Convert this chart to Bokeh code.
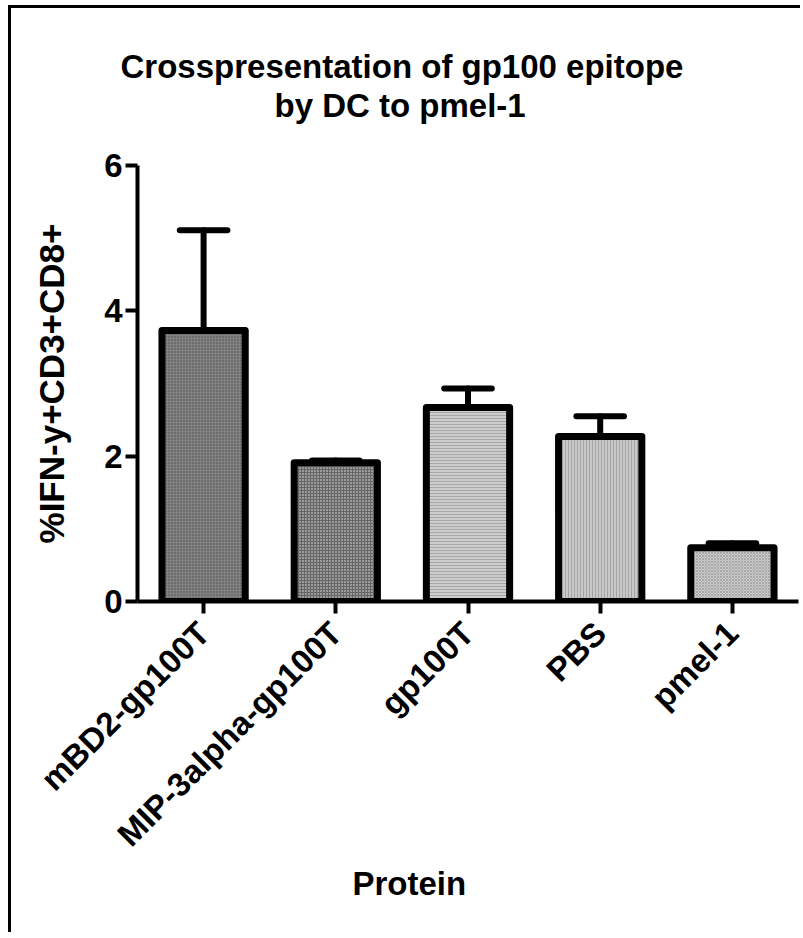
import math
from bokeh.plotting import figure
from bokeh.models import ColumnDataSource, FactorRange, Range1d, FixedTicker, Title
from bokeh.transform import dodge
from bokeh.embed import file_html
from bokeh.resources import INLINE

# ---- data ----
categories = ["mBD2-gp100T", "MIP-3alpha-gp100T", "gp100T", "PBS", "pmel-1"]
means = [3.73, 1.91, 2.67, 2.27, 0.74]
sem = [1.38, 0.03, 0.26, 0.28, 0.06]
y_ticks = [0, 2, 4, 6]
title_lines = ["Crosspresentation of gp100 epitope", "by DC to pmel-1"]
x_title = "Protein"
y_title = "%IFN-y+CD3+CD8+"

# ---- styles ----
bar_fills = ["#828282", "#9a9a9a", "#cdcdcd", "#c8c8c8", "#cbcbcb"]
bar_hatch = ["dot", "cross", "horizontal_line", "vertical_line", "diagonal_cross"]
bar_hatch_col = ["#4a4a4a", "#666666", "#a8a8a8", "#a4a4a4", "#a8a8a8"]
FONT = "Liberation Sans"

upper = [m + s for m, s in zip(means, sem)]
src = ColumnDataSource(dict(cat=categories, mean=means, upper=upper,
                            fill=bar_fills, hatch=bar_hatch, hcol=bar_hatch_col))

p = figure(width=792, height=927, x_range=FactorRange(*categories), y_range=Range1d(0, 6),
           output_backend="svg", toolbar_location=None,
           min_border_left=126, min_border_right=5, min_border_top=157, min_border_bottom=334)
p.styles = {"border-left": "3px solid black", "border-top": "3px solid black",
            "margin-left": "8px", "margin-top": "5px"}
p.background_fill_color = "white"
p.border_fill_color = "white"
p.outline_line_color = None
p.grid.visible = False

p.vbar(x="cat", top="mean", bottom=0, width=0.63, source=src,
       fill_color="fill", line_color="black", line_width=7, line_join="round",
       hatch_pattern="hatch", hatch_color="hcol", hatch_scale=3, hatch_weight=1)

# error bars (upper only)
p.segment(x0="cat", y0="mean", x1="cat", y1="upper", source=src,
          line_color="black", line_width=6, line_cap="round")
p.segment(x0=dodge("cat", -0.18, range=p.x_range), y0="upper",
          x1=dodge("cat", 0.18, range=p.x_range), y1="upper", source=src,
          line_color="black", line_width=6, line_cap="round")

for ax in (p.xaxis[0], p.yaxis[0]):
    ax.axis_line_width = 4
    ax.axis_line_color = "black"
    ax.major_tick_line_width = 4
    ax.major_tick_line_color = "black"
    ax.major_tick_in = 0
    ax.major_tick_out = 12
    ax.minor_tick_line_color = None
    ax.major_label_text_font = FONT
    ax.major_label_text_font_style = "bold"
    ax.major_label_text_font_size = "33px"
    ax.major_label_text_color = "black"
    ax.axis_label_text_font = FONT
    ax.axis_label_text_font_style = "bold"
    ax.axis_label_text_font_size = "35px"
    ax.axis_label_text_color = "black"

p.yaxis.ticker = FixedTicker(ticks=y_ticks)
p.yaxis.major_label_standoff = 3
p.yaxis.axis_label = y_title
p.yaxis.axis_label_standoff = 30
p.xaxis.major_label_standoff = 14
p.xaxis.major_label_orientation = math.pi / 4

def title(text, side, offset, size="33px", standoff=10, valign="bottom"):
    p.add_layout(Title(text=text, align="left", offset=offset, text_font=FONT,
                       text_font_style="bold", text_font_size=size, text_color="black",
                       standoff=standoff, vertical_align=valign), side)

# above: first added sits closest to the plot frame
title(" ", "above", 0, size="22px")
title(title_lines[1], "above", 137)
title(title_lines[0], "above", -17, standoff=-10)
title(x_title, "below", 215, standoff=-10, valign="top")

open("out.html", "w").write(file_html(p, INLINE))
